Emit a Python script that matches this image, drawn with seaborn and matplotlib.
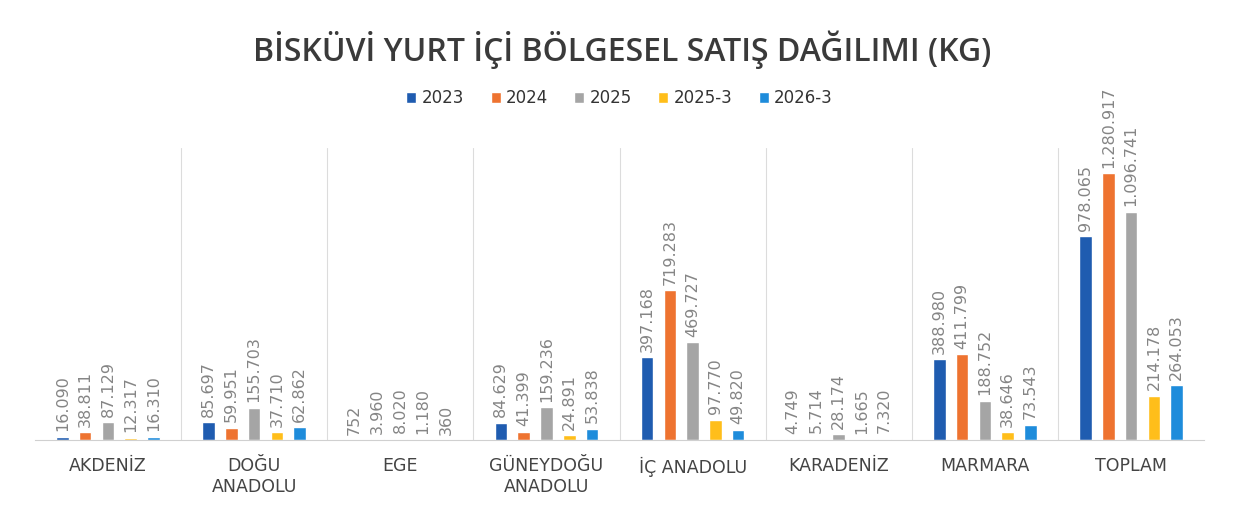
import pandas as pd
import matplotlib.pyplot as plt
import seaborn as sns
from matplotlib.ticker import FixedLocator

# Bölgeler ve yıllar
regions = ["AKDENİZ", "DOĞU\nANADOLU", "EGE", "GÜNEYDOĞU\nANADOLU", "İÇ ANADOLU",
           "KARADENİZ", "MARMARA", "TOPLAM"]
periods = ["2023", "2024", "2025", "2025-3", "2026-3"]

# Satışlar (kg)
sales_2023 = [16090, 85697, 752, 84629, 397168, 4749, 388980, 978065]
sales_2024 = [38811, 59951, 3960, 41399, 719283, 5714, 411799, 1280917]
sales_2025 = [87129, 155703, 8020, 159236, 469727, 28174, 188752, 1096741]
sales_2025_3 = [12317, 37710, 1180, 24891, 97770, 1665, 38646, 214178]
sales_2026_3 = [16310, 62862, 360, 53838, 49820, 7320, 73543, 264053]

colors = ["#1F5CB0", "#EE7330", "#A5A5A5", "#FFBE1A", "#1E8CDB"]

df = pd.DataFrame({"region": regions,
                   "2023": sales_2023, "2024": sales_2024, "2025": sales_2025,
                   "2025-3": sales_2025_3, "2026-3": sales_2026_3})
long_df = df.melt(id_vars="region", var_name="period", value_name="kg")

sns.set_style("white")
fig = plt.figure(figsize=(12.44, 5.21), dpi=100)
ax = fig.add_axes([0.028, 0.155, 0.94, 0.56])

sns.barplot(data=long_df, x="region", y="kg", hue="period", hue_order=periods,
            order=regions, palette=colors, width=0.78, gap=0.45, ax=ax,
            saturation=1, legend=True)

# Değer etiketleri
for cont in ax.containers:
    labels = [f"{int(b.get_height()):,}".replace(",", ".") for b in cont]
    ax.bar_label(cont, labels=labels, rotation=90, padding=4, fontsize=11.5,
                 color="#858585")

ax.set_ylim(0, 1400000)
ax.set_xlim(-0.5, len(regions) - 0.5)
ax.set_yticks([])
ax.set_xlabel("")
ax.set_ylabel("")
ax.tick_params(axis="x", length=0, pad=12, labelsize=12.5, labelcolor="#444444")
ax.xaxis.set_minor_locator(FixedLocator([i + 0.5 for i in range(len(regions) - 1)]))
ax.grid(axis="x", which="minor", color="#dcdcdc", linewidth=0.8)
ax.tick_params(axis="x", which="minor", length=0)
for side in ["top", "left", "right"]:
    ax.spines[side].set_visible(False)
ax.spines["bottom"].set_color("#d0d0d0")

leg = ax.legend(loc="lower center", bbox_to_anchor=(0.5, 1.09), ncol=5, frameon=False,
                fontsize=12, handlelength=0.6, handleheight=0.6, handletextpad=0.3,
                columnspacing=1.6)
for t in leg.get_texts():
    t.set_color("#333333")

fig.text(0.5, 0.905, "BİSKÜVİ YURT İÇİ BÖLGESEL SATIŞ DAĞILIMI (KG)", ha="center",
         va="center", fontsize=23, fontweight="semibold", family="Open Sans",
         color="#3a3a3a")

fig.savefig("out.png", dpi=100)
